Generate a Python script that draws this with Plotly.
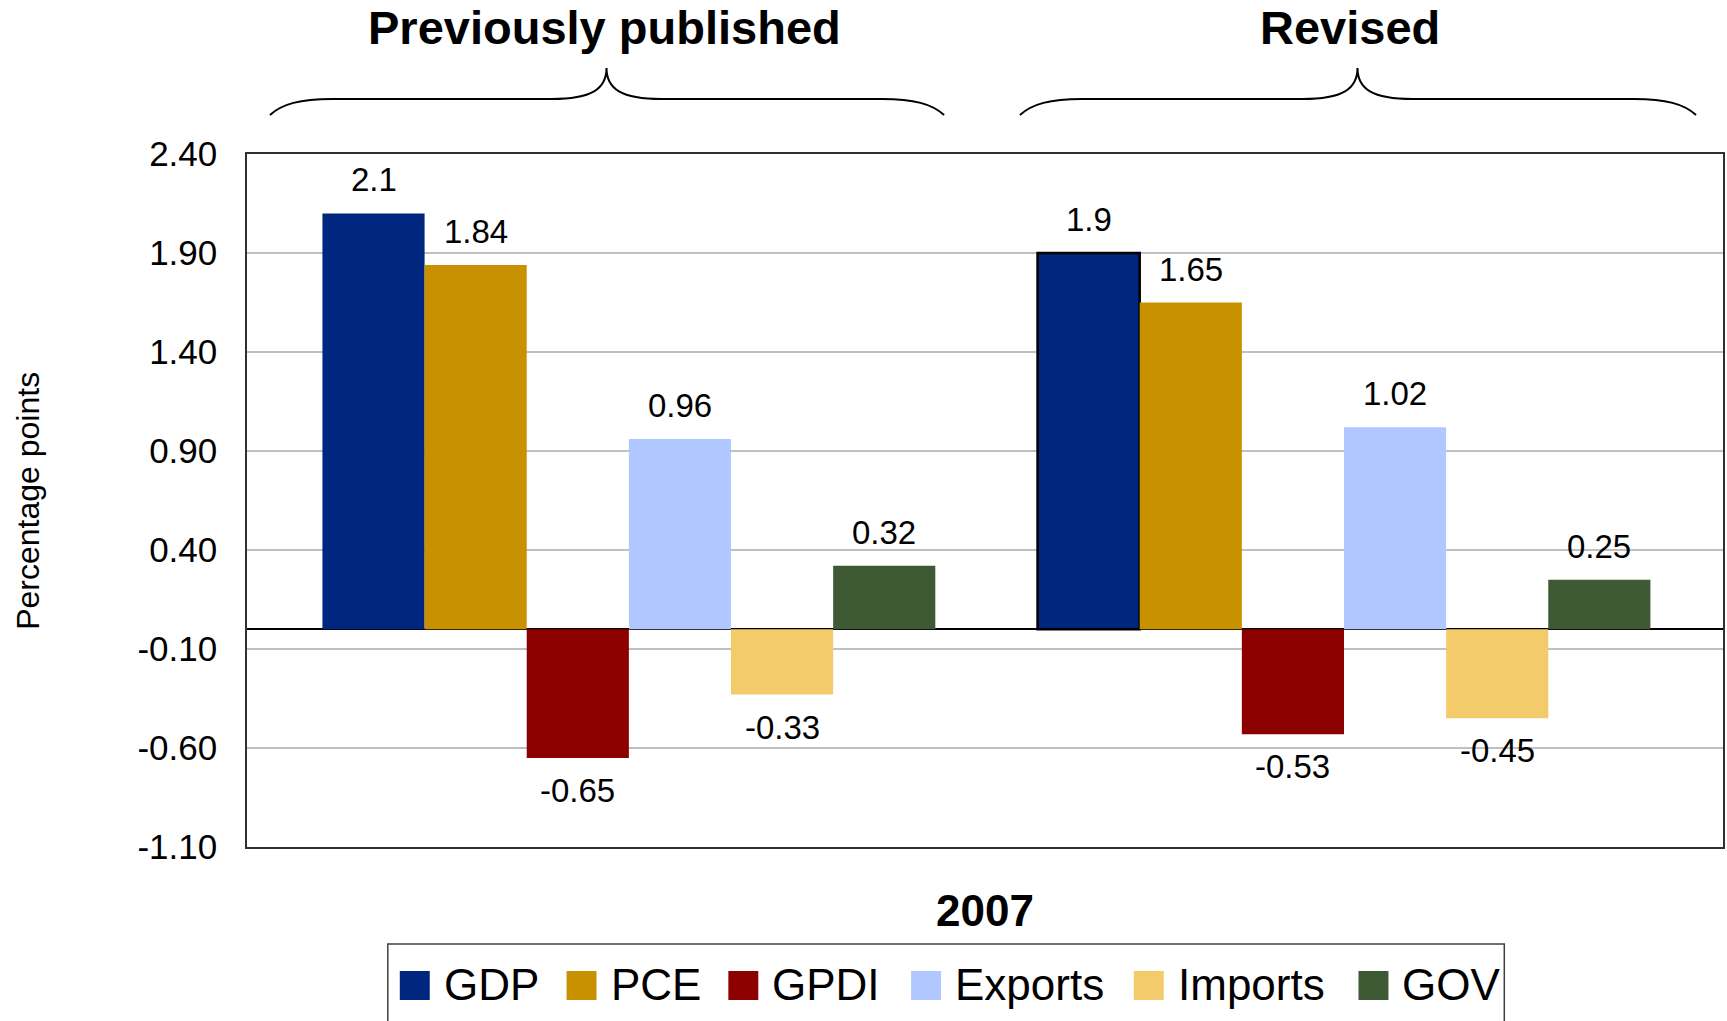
import plotly.graph_objects as go

# ---------------- data ----------------
periods = ["Previously published", "Revised"]
components = ["GDP", "PCE", "GPDI", "Exports", "Imports", "GOV"]
prev_values = [2.1, 1.84, -0.65, 0.96, -0.33, 0.32]
revised_values = [1.9, 1.65, -0.53, 1.02, -0.45, 0.25]
label_text_prev = ["2.1", "1.84", "-0.65", "0.96", "-0.33", "0.32"]
label_text_rev = ["1.9", "1.65", "-0.53", "1.02", "-0.45", "0.25"]
x_title = "2007"
y_title = "Percentage points"
y_ticks = [-1.1, -0.6, -0.1, 0.4, 0.9, 1.4, 1.9, 2.4]
y_tick_text = ["-1.10", "-0.60", "-0.10", "0.40", "0.90", "1.40", "1.90", "2.40"]

# ---------------- style ----------------
colors = ["#00267F", "#C79100", "#8C0000", "#B0C8FF", "#F4CB6A", "#3D5A35"]
FONT = "Liberation Sans, Arial, sans-serif"
W, H = 1727, 1021
L, R, T, B = 247, 1725, 154, 847
BARGAP = 0.143


def px(x):
    return (x - L) / (R - L)


def py(y):
    return (B - y) / (B - T)


values_by_period = [prev_values, revised_values]
labels_by_period = [label_text_prev, label_text_rev]
xpos = list(range(len(periods)))

fig = go.Figure()
for j, comp in enumerate(components):
    yv = [values_by_period[i][j] for i in range(len(periods))]
    line_w = [0, 2.5] if comp == "GDP" else [0, 0]
    fig.add_trace(go.Bar(
        x=xpos, y=yv, name=comp,
        marker=dict(color=colors[j], line=dict(color="#000000", width=line_w)),
        showlegend=False,
    ))

# data labels
n = len(components)
w = (1 - BARGAP) / n
annotations = []
for i in range(len(periods)):
    for j in range(n):
        v = values_by_period[i][j]
        xc = xpos[i] + (j + 0.5 - n / 2) * w
        annotations.append(dict(
            x=xc, y=v, xref="x", yref="y", text=labels_by_period[i][j],
            showarrow=False, font=dict(family=FONT, size=33, color="#000000"),
            xanchor="center", yanchor="bottom" if v >= 0 else "top",
            yshift=13 if v >= 0 else -12,
        ))

# titles over the groups
annotations.append(dict(x=px(605), y=py(27), xref="paper", yref="paper",
                        text="<b>Previously published</b>", showarrow=False,
                        font=dict(family=FONT, size=47, color="#000000"),
                        xanchor="center", yanchor="middle"))
annotations.append(dict(x=px(1351), y=py(27), xref="paper", yref="paper",
                        text="<b>Revised</b>", showarrow=False,
                        font=dict(family=FONT, size=47, color="#000000"),
                        xanchor="center", yanchor="middle"))
# x title
annotations.append(dict(x=0.5, y=py(910), xref="paper", yref="paper",
                        text="<b>" + x_title + "</b>", showarrow=False,
                        font=dict(family=FONT, size=44, color="#000000"),
                        xanchor="center", yanchor="middle"))
# y title
annotations.append(dict(x=px(27), y=0.5, xref="paper", yref="paper",
                        text=y_title, showarrow=False, textangle=-90,
                        font=dict(family=FONT, size=32, color="#000000"),
                        xanchor="center", yanchor="middle"))


def brace(x0, x1, xt, yt=68, yf=99, ye=115):
    pts = [
        f"M {px(x0)},{py(ye)}",
        f"C {px(x0 + 12)},{py(yf + 5)} {px(x0 + 30)},{py(yf)} {px(x0 + 62)},{py(yf)}",
        f"L {px(xt - 55)},{py(yf)}",
        f"C {px(xt - 15)},{py(yf)} {px(xt)},{py(yf - 10)} {px(xt)},{py(yt)}",
        f"C {px(xt)},{py(yf - 10)} {px(xt + 15)},{py(yf)} {px(xt + 55)},{py(yf)}",
        f"L {px(x1 - 62)},{py(yf)}",
        f"C {px(x1 - 30)},{py(yf)} {px(x1 - 12)},{py(yf + 5)} {px(x1)},{py(ye)}",
    ]
    return dict(type="path", path=" ".join(pts), xref="paper", yref="paper",
                line=dict(color="#000000", width=2))


shapes = [brace(270, 945, 607), brace(1021, 1698, 1359)]

# legend (drawn manually to match large swatches)
legend_swatch_x = [400, 567, 729, 912, 1135, 1360]
shapes.append(dict(type="rect", xref="paper", yref="paper",
                   x0=px(388), x1=px(1506), y0=py(1040), y1=py(944),
                   line=dict(color="#404040", width=1.5), fillcolor="rgba(0,0,0,0)"))
for k, comp in enumerate(components):
    sx = legend_swatch_x[k]
    shapes.append(dict(type="rect", xref="paper", yref="paper",
                       x0=px(sx), x1=px(sx + 30), y0=py(1000), y1=py(971),
                       line=dict(width=0), fillcolor=colors[k]))
    annotations.append(dict(x=px(sx + 42), y=py(984), xref="paper", yref="paper",
                            text=comp, showarrow=False,
                            font=dict(family=FONT, size=44, color="#000000"),
                            xanchor="left", yanchor="middle"))

fig.update_layout(
    width=W, height=H,
    margin=dict(l=L, r=W - R, t=T, b=H - B, pad=0),
    paper_bgcolor="#FFFFFF", plot_bgcolor="#FFFFFF",
    barmode="group", bargap=BARGAP, bargroupgap=0,
    font=dict(family=FONT, color="#000000"),
    annotations=annotations, shapes=shapes,
    showlegend=False,
)
fig.update_xaxes(range=[-0.534, 1.530], showgrid=False, zeroline=False,
                 showticklabels=False, ticks="", showline=True, mirror=True,
                 linecolor="#303030", linewidth=1.5)
fig.update_yaxes(range=[-1.1, 2.4], tickvals=y_ticks, ticktext=y_tick_text,
                 showgrid=True, gridcolor="#C0C0C0", gridwidth=1.5,
                 zeroline=True, zerolinecolor="#000000", zerolinewidth=1.5,
                 showline=True, mirror=True, linecolor="#303030", linewidth=1.5,
                 ticks="", ticklabelstandoff=21,
                 tickfont=dict(family=FONT, size=35, color="#000000"))

fig.write_html("out.html", config={"displayModeBar": False},
               post_script="document.body.style.margin='0';document.body.style.overflow='hidden';")
